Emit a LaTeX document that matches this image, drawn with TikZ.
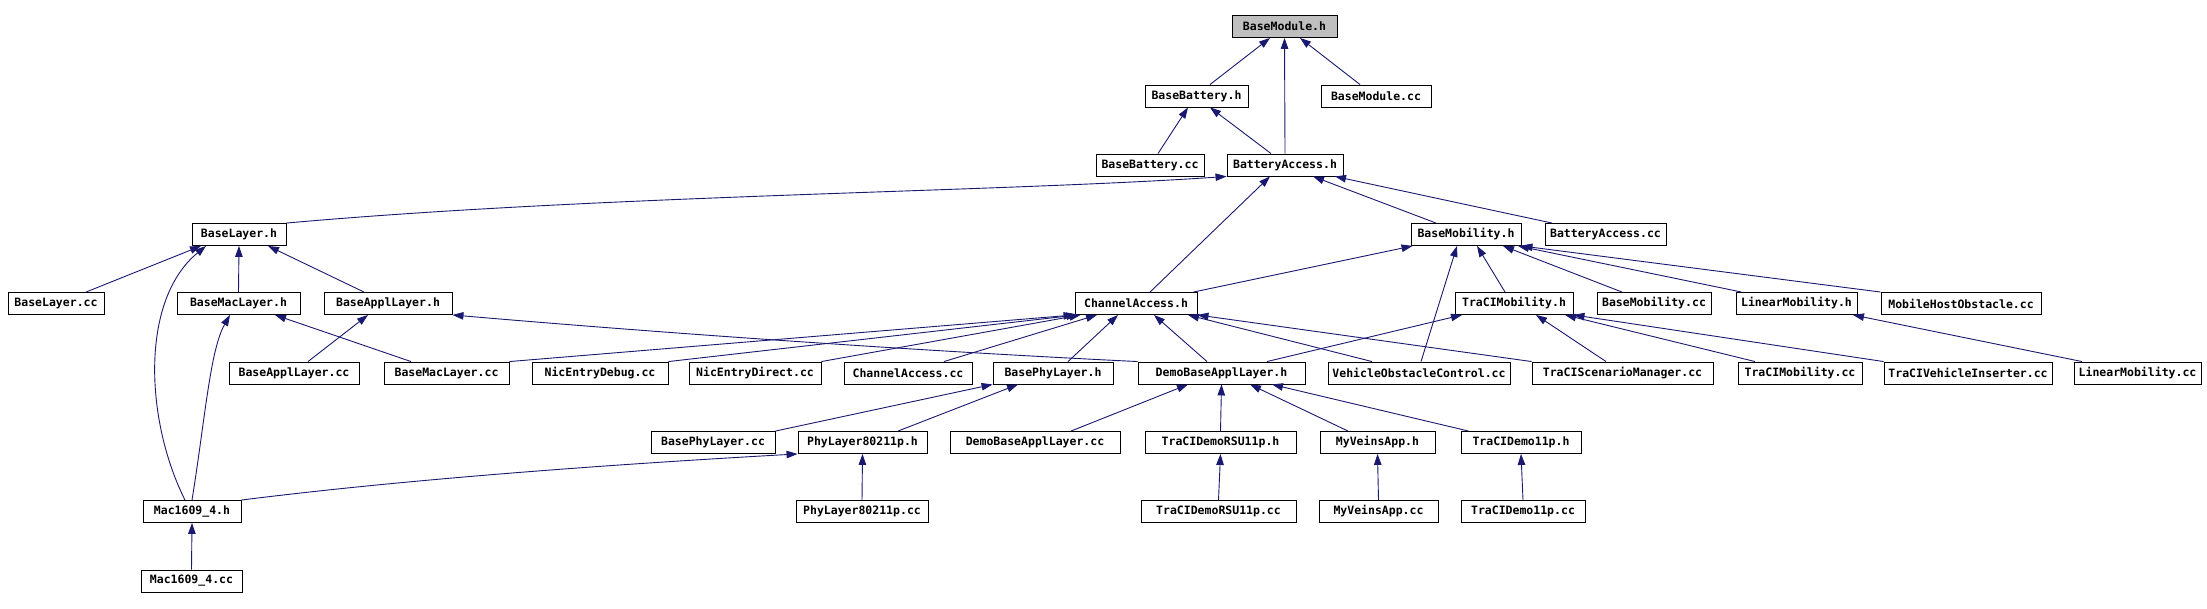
\documentclass[tikz,border=0pt]{standalone}
\usepackage{fontspec}
\setmonofont{DejaVu Sans Mono}
\usetikzlibrary{arrows.meta}
\definecolor{linkblue}{HTML}{191970}
\definecolor{rootgray}{HTML}{BFBFBF}

\begin{document}
\begin{tikzpicture}[x=1pt, y=-1pt, every node/.style={font=\ttfamily\bfseries\fontsize{11.5}{13}\selectfont},
  file/.style={draw=black, line width=0.9pt, fill=white, minimum height=22pt, inner sep=1pt},
  inc/.style={linkblue, line width=0.9pt, -{Triangle[length=11pt,width=7.5pt]}}]
  \path[use as bounding box, fill=white] (0,0) rectangle (2207,609);

  \node[file,fill=rootgray,minimum width=105pt] (bmodh) at (1284.5,26.5) {BaseModule.h};
  \node[file,minimum width=103pt] (bbath) at (1196.5,96) {BaseBattery.h};
  \node[file,minimum width=110pt] (bmodcc) at (1376,96) {BaseModule.cc};
  \node[file,minimum width=108pt] (bbatcc) at (1150,165) {BaseBattery.cc};
  \node[file,minimum width=116pt] (bacch) at (1285,165) {BatteryAccess.h};
  \node[file,minimum width=94pt] (blayh) at (239,234.5) {BaseLayer.h};
  \node[file,minimum width=110pt] (bmobh) at (1466,234.5) {BaseMobility.h};
  \node[file,minimum width=121pt] (bacccc) at (1605.5,234.5) {BatteryAccess.cc};
  \node[file,minimum width=96pt] (blaycc) at (56,303.5) {BaseLayer.cc};
  \node[file,minimum width=123pt] (bmach) at (238.5,303.5) {BaseMacLayer.h};
  \node[file,minimum width=128pt] (bapph) at (388,303.5) {BaseApplLayer.h};
  \node[file,minimum width=122pt] (chah) at (1136,303.5) {ChannelAccess.h};
  \node[file,minimum width=118pt] (tmobh) at (1514,303.5) {TraCIMobility.h};
  \node[file,minimum width=114pt] (bmobcc) at (1654,303.5) {BaseMobility.cc};
  \node[file,minimum width=121pt] (lmobh) at (1796.5,303.5) {LinearMobility.h};
  \node[file,minimum width=160pt] (mhocc) at (1961,303.5) {MobileHostObstacle.cc};
  \node[file,minimum width=130pt] (bappcc) at (294,373) {BaseApplLayer.cc};
  \node[file,minimum width=125pt] (bmaccc) at (446.5,373) {BaseMacLayer.cc};
  \node[file,minimum width=136pt] (nedbg) at (600,373) {NicEntryDebug.cc};
  \node[file,minimum width=132pt] (nedir) at (755,373) {NicEntryDirect.cc};
  \node[file,minimum width=128pt] (chacc) at (908,373) {ChannelAccess.cc};
  \node[file,minimum width=120pt] (bphyh) at (1053,373) {BasePhyLayer.h};
  \node[file,minimum width=167pt] (dbah) at (1221.5,373) {DemoBaseApplLayer.h};
  \node[file,minimum width=182pt] (vocc) at (1419,373) {VehicleObstacleControl.cc};
  \node[file,minimum width=181pt] (tsmcc) at (1622.5,373) {TraCIScenarioManager.cc};
  \node[file,minimum width=124pt] (tmobcc) at (1800,373) {TraCIMobility.cc};
  \node[file,minimum width=168pt] (tvicc) at (1968,373) {TraCIVehicleInserter.cc};
  \node[file,minimum width=127pt] (lmobcc) at (2137.5,373) {LinearMobility.cc};
  \node[file,minimum width=124pt] (bphycc) at (713,442.5) {BasePhyLayer.cc};
  \node[file,minimum width=129pt] (phyh) at (862.5,442.5) {PhyLayer80211p.h};
  \node[file,minimum width=170pt] (dbacc) at (1035,442.5) {DemoBaseApplLayer.cc};
  \node[file,minimum width=151pt] (rsuh) at (1220.5,442.5) {TraCIDemoRSU11p.h};
  \node[file,minimum width=115pt] (mvah) at (1377.5,442.5) {MyVeinsApp.h};
  \node[file,minimum width=120pt] (d11h) at (1521,442.5) {TraCIDemo11p.h};
  \node[file,minimum width=98pt] (mach) at (192,511.5) {Mac1609\_4.h};
  \node[file,minimum width=132pt] (phycc) at (862,511.5) {PhyLayer80211p.cc};
  \node[file,minimum width=155pt] (rsucc) at (1218.5,511.5) {TraCIDemoRSU11p.cc};
  \node[file,minimum width=119pt] (mvacc) at (1378.5,511.5) {MyVeinsApp.cc};
  \node[file,minimum width=124pt] (d11cc) at (1523,511.5) {TraCIDemo11p.cc};
  \node[file,minimum width=101pt] (maccc) at (191.5,581) {Mac1609\_4.cc};

  \draw[inc] ([xshift=13.5pt]bbath.north) -- ([xshift=-14.5pt]bmodh.south);
  \draw[inc] (bacch.north) -- (bmodh.south);
  \draw[inc] ([xshift=-16pt]bmodcc.north) -- ([xshift=15.5pt]bmodh.south);
  \draw[inc] ([xshift=8pt]bbatcc.north) -- ([xshift=-8.5pt]bbath.south);
  \draw[inc] ([xshift=-14pt]bacch.north) -- ([xshift=13.5pt]bbath.south);
  \draw[inc] (blayh.north east) .. controls (600,195) and (1000,192) .. (bacch.south west);
  \draw[inc] ([xshift=14pt]chah.north) -- ([xshift=-15pt]bacch.south);
  \draw[inc] ([xshift=-30pt]bmobh.north) -- ([xshift=28pt]bacch.south);
  \draw[inc] ([xshift=-53.5pt]bacccc.north) -- ([xshift=50pt]bacch.south);
  \draw[inc] ([xshift=30pt]blaycc.north) -- ([xshift=-38pt]blayh.south);
  \draw[inc] (bmach.north) -- (blayh.south);
  \draw[inc] ([xshift=-24pt]bapph.north) -- ([xshift=29pt]blayh.south);
  \draw[inc] ([xshift=-7pt]mach.north) .. controls (145,420) and (140,300) .. ([xshift=-33pt]blayh.south);
  \draw[inc] ([xshift=14pt]bappcc.north) -- ([xshift=-20pt]bapph.south);
  \draw[inc] ([xshift=-35.5pt]bmaccc.north) -- ([xshift=36.5pt]bmach.south);
  \draw[inc] (mach.north) .. controls (205,420) and (210,350) .. ([xshift=-8.5pt]bmach.south);
  \draw[inc] (dbah.north west) .. controls (900,350) and (650,332) .. (bapph.south east);
  \draw[inc] (bmaccc.north east) -- (chah.south west);
  \draw[inc] (nedbg.north east) -- ([xshift=3pt]chah.south west);
  \draw[inc] (nedir.north east) -- ([xshift=6pt]chah.south west);
  \draw[inc] ([xshift=36pt]chacc.north) -- ([xshift=-39pt]chah.south);
  \draw[inc] ([xshift=15pt]bphyh.north) -- ([xshift=-18pt]chah.south);
  \draw[inc] ([xshift=-14.5pt]dbah.north) -- ([xshift=18pt]chah.south);
  \draw[inc] ([xshift=-47pt]vocc.north) -- ([xshift=52pt]chah.south);
  \draw[inc] (tsmcc.north west) -- (chah.south east);
  \draw[inc] ([xshift=-4pt]chah.north east) -- ([xshift=2pt]bmobh.south west);
  \draw[inc] ([xshift=2pt]vocc.north) -- ([xshift=-9pt]bmobh.south);
  \draw[inc] ([xshift=-9pt]tmobh.north) -- ([xshift=11pt]bmobh.south);
  \draw[inc] ([xshift=-32pt]bmobcc.north) -- ([xshift=37pt]bmobh.south);
  \draw[inc] ([xshift=6pt]lmobh.north west) -- ([xshift=52pt]bmobh.south);
  \draw[inc] (mhocc.north west) -- (bmobh.south east);
  \draw[inc] ([xshift=45.5pt]dbah.north) -- ([xshift=-52pt]tmobh.south);
  \draw[inc] ([xshift=-16.5pt]tsmcc.north) -- ([xshift=22pt]tmobh.south);
  \draw[inc] ([xshift=-45pt]tmobcc.north) -- ([xshift=51pt]tmobh.south);
  \draw[inc] (tvicc.north west) -- (tmobh.south east);
  \draw[inc] ([xshift=-55.5pt]lmobcc.north) -- ([xshift=56.5pt]lmobh.south);
  \draw[inc] (bphycc.north east) -- (bphyh.south west);
  \draw[inc] ([xshift=35.5pt]phyh.north) -- ([xshift=-35pt]bphyh.south);
  \draw[inc] ([xshift=36pt]dbacc.north) -- ([xshift=-33.5pt]dbah.south);
  \draw[inc] (rsuh.north) -- (dbah.south);
  \draw[inc] ([xshift=-29.5pt]mvah.north) -- ([xshift=28.5pt]dbah.south);
  \draw[inc] ([xshift=8pt]d11h.north west) -- ([xshift=50.5pt]dbah.south);
  \draw[inc] (mach.north east) .. controls (400,480) and (600,465) .. (phyh.south west);
  \draw[inc] (phycc.north) -- (phyh.south);
  \draw[inc] (rsucc.north) -- (rsuh.south);
  \draw[inc] (mvacc.north) -- (mvah.south);
  \draw[inc] (d11cc.north) -- (d11h.south);
  \draw[inc] (maccc.north) -- (mach.south);
\end{tikzpicture}
\end{document}
